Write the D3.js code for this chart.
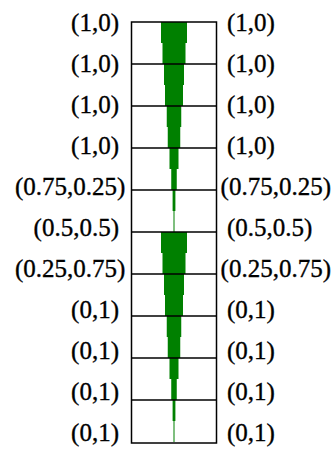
<!DOCTYPE html>
<html>
<head>
<meta charset="utf-8">
<script src="https://cdn.jsdelivr.net/npm/d3@7"></script>
<style>
  html, body { margin: 0; padding: 0; background: #fff; }
  svg { display: block; }
  text { font-family: "Liberation Serif", "Times New Roman", serif; font-size: 25px; fill: #000; stroke: #000; stroke-width: 0.35px; }
</style>
</head>
<body>
<svg id="chart" width="333" height="451"></svg>
<script>
// ---- data ----
const rowLabels = ["(1,0)", "(1,0)", "(1,0)", "(1,0)", "(0.75,0.25)", "(0.5,0.5)",
                   "(0.25,0.75)", "(0,1)", "(0,1)", "(0,1)", "(0,1)"];
// widths of the stepped green bars (half-row steps), first funnel (rows 0-5)
const funnelTop = [26, 23, 20, 18, 14.5, 12.5, 9, 5.5, 2.8, 1];
// second funnel (rows 5-10)
const funnelBottom = [26, 23, 20, 18, 14.5, 12.5, 9, 5.5, 2.8, 1];

// ---- layout ----
const svg = d3.select("#chart");
const box = { left: 131.5, right: 216.5, top: 22, bottom: 442 };
const nRows = rowLabels.length - 1; // 10 intervals

const y = d3.scaleLinear().domain([0, nRows]).range([box.top, box.bottom]);
const x = d3.scaleLinear().domain([-42.5, 42.5]).range([box.left, box.right]);
const yLabel = d3.scaleLinear().domain([0, nRows]).range([22.5, 432.5]);

// green steps
const steps = [];
funnelTop.forEach((w, i) => steps.push({ start: i * 0.5, w }));
funnelBottom.forEach((w, i) => steps.push({ start: 5 + i * 0.5, w }));

svg.append("g").selectAll("rect").data(steps).join("rect")
  .attr("x", d => x(-d.w / 2))
  .attr("width", d => x(d.w / 2) - x(-d.w / 2))
  .attr("y", d => y(d.start))
  .attr("height", d => y(d.start + 0.5) - y(d.start))
  .attr("fill", "#008000");

// horizontal lines
svg.append("g").selectAll("line").data(d3.range(1, nRows)).join("line")
  .attr("x1", box.left).attr("x2", box.right)
  .attr("y1", d => y(d)).attr("y2", d => y(d))
  .attr("stroke", "#000").attr("stroke-width", 1.5);

// box
svg.append("rect")
  .attr("x", box.left).attr("y", box.top)
  .attr("width", box.right - box.left).attr("height", y(nRows) - box.top + 1)
  .attr("fill", "none").attr("stroke", "#000").attr("stroke-width", 1.5);

// labels
const left = svg.append("g").selectAll("text").data(rowLabels).join("text")
  .attr("text-anchor", "end")
  .attr("y", (d, i) => yLabel(i))
  .attr("dy", "0.35em")
  .text(d => d);
left.attr("x", function() {
  const w = this.getComputedTextLength();
  return Math.max(119, w + 15);
});

const right = svg.append("g").selectAll("text").data(rowLabels).join("text")
  .attr("text-anchor", "start")
  .attr("y", (d, i) => yLabel(i))
  .attr("dy", "0.35em")
  .text(d => d);
right.attr("x", function() {
  const w = this.getComputedTextLength();
  return Math.min(227, 331 - w);
});
</script>
</body>
</html>
